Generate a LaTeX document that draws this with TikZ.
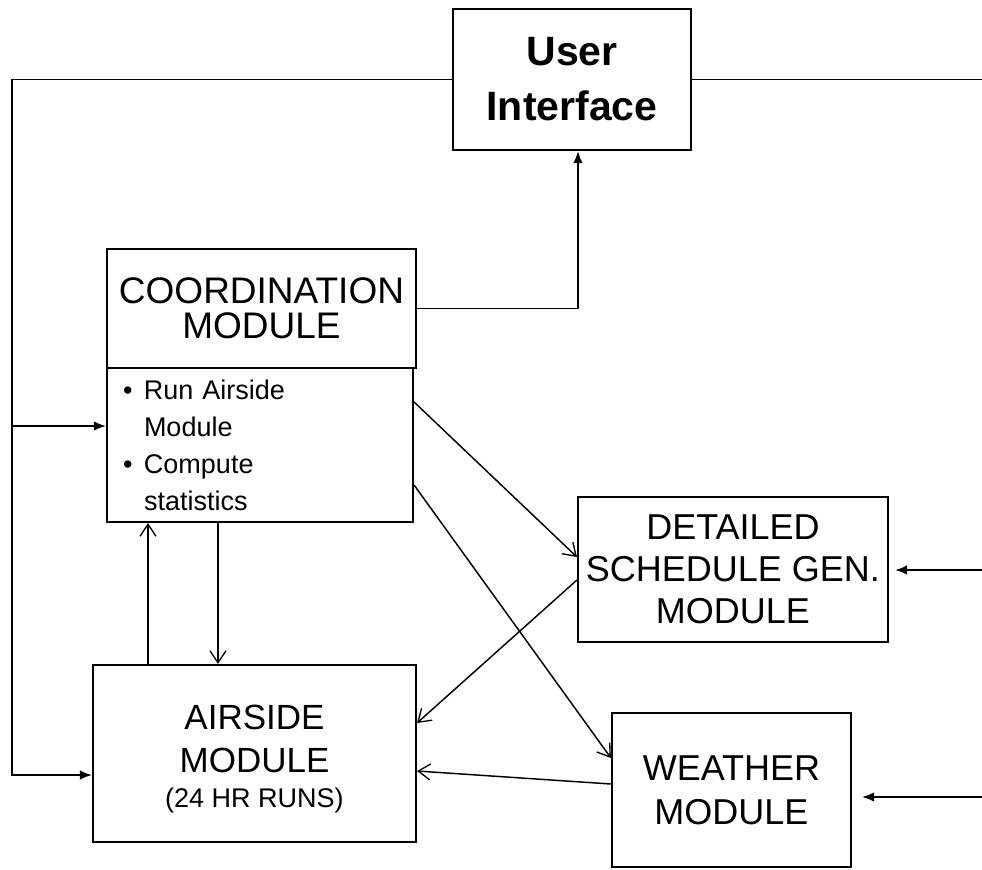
\documentclass[tikz,border=0pt]{standalone}
\usepackage{fontspec}
\setmainfont{Liberation Sans}
\usetikzlibrary{arrows.meta}
\begin{document}
\begin{tikzpicture}[x=0.75pt,y=-0.75pt,
  box/.style={draw, line width=1.6pt, inner sep=0pt, align=center, anchor=center},
  link/.style={line width=1.1pt},
  openarrow/.style={link, -{Straight Barb[length=9pt,width=12pt,line width=1pt]}},
  solidarrow/.style={link, -{Latex[length=9pt,width=7pt]}},
]
\useasboundingbox (0,0) rectangle (982,869);

% modules
\node[box, minimum width=178.5pt, minimum height=105.75pt,
      font=\fontsize{30.75pt}{41.25pt}\selectfont\bfseries] (ui) at (572,79.5) {User\\Interface};
\node[box, minimum width=231.75pt, minimum height=89.25pt,
      font=\fontsize{27.75pt}{26.25pt}\selectfont] (coord) at (261.5,308.5) {COORDINATION\\MODULE};
\node[box, minimum width=229.5pt, minimum height=115.5pt, text width=205.5pt,
      inner xsep=12pt, align=left,
      font=\fontsize{20.25pt}{27.75pt}\selectfont] (tasks) at (260,445)
  {\makebox[15.75pt][l]{\textbullet}Run Airside\\
   \hspace*{15.75pt}Module\\
   \makebox[15.75pt][l]{\textbullet}Compute\\
   \hspace*{15.75pt}statistics};
\node[box, minimum width=232.5pt, minimum height=108.75pt,
      font=\fontsize{27pt}{31.5pt}\selectfont] (det) at (733,569.5) {DETAILED\\SCHEDULE GEN.\\MODULE};
\node[box, minimum width=242.25pt, minimum height=132.75pt,
      font=\fontsize{26.25pt}{32pt}\selectfont] (air) at (254.5,753.5)
  {\rule{0pt}{26.5pt}AIRSIDE\\MODULE\\[-6pt]{\fontsize{20.25pt}{25.5pt}\selectfont (24 HR RUNS)}};
\node[box, minimum width=179.25pt, minimum height=115.5pt,
      font=\fontsize{27pt}{33pt}\selectfont] (wea) at (731.5,790) {WEATHER\\MODULE};

% loose ends of the feedback lines
\coordinate (lt) at (12,79.5);
\coordinate (lb) at (12,775);
\coordinate (lm) at (12,426);
\coordinate (rt) at (982,79.5);
\coordinate (rd) at (982,570);
\coordinate (rw) at (982,797);

% connectors
\draw[solidarrow] (ui.west) -- (lt) -- (lb) -- (lb -| air.west);
\draw[solidarrow] (lm) -- (lm -| tasks.west);
\draw[link] (ui.east) -- (rt);
\draw[solidarrow] (coord.east) -| ([xshift=4.5pt]ui.south);
\draw[solidarrow, shorten >=4.5pt] (rd) -- (rd -| det.east);
\draw[solidarrow, shorten >=7.5pt] (rw) -- (rw -| wea.east);
\draw[openarrow] (tasks.east |- 0,402) -- (det.west |- 0,557);
\draw[openarrow] (tasks.east |- 0,485) -- (wea.west |- 0,758);
\draw[openarrow] (det.west |- 0,580) -- (air.east |- 0,723);
\draw[openarrow] (wea.west |- 0,784) -- (air.east |- 0,771);
\draw[openarrow] (148,0 |- air.north) -- (148,0 |- tasks.south);
\draw[openarrow] (218,0 |- tasks.south) -- (218,0 |- air.north);
\end{tikzpicture}
\end{document}
